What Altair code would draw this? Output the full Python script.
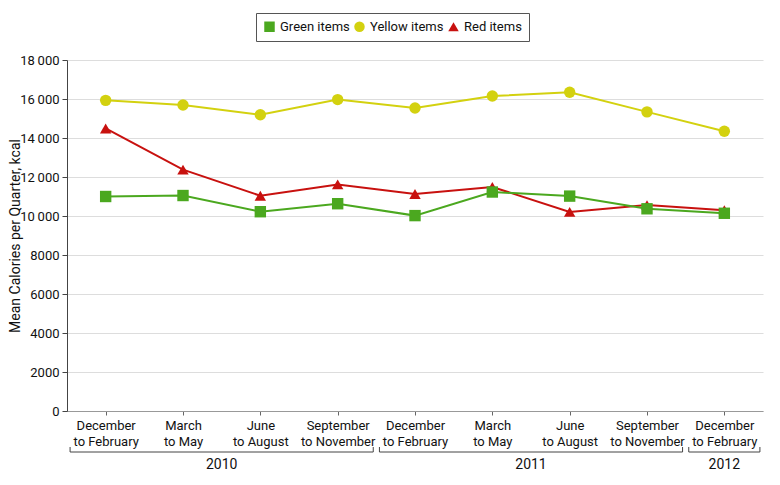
import altair as alt
import pandas as pd
import json

quarters = [
    ["December", "to February"], ["March", "to May"], ["June", "to August"],
    ["September", "to November"], ["December", "to February"], ["March", "to May"],
    ["June", "to August"], ["September", "to November"], ["December", "to February"],
]
quarter_year = ["2010", "2010", "2010", "2010", "2011", "2011", "2011", "2011", "2012"]

series_names = ["Green items", "Yellow items", "Red items"]
series_colors = ["#4ba81f", "#d3d10f", "#c8110f"]
series_shapes = ["square", "circle", "triangle-up"]

green = [11000, 11050, 10220, 10630, 10020, 11230, 11020, 10370, 10140]
yellow = [15930, 15690, 15190, 15970, 15540, 16150, 16350, 15340, 14350]
red = [14490, 12380, 11040, 11620, 11130, 11490, 10210, 10560, 10300]

y_ticks = [0, 2000, 4000, 6000, 8000, 10000, 12000, 14000, 16000, 18000]

FONT = "Roboto"
W, H = 696, 351

rows = []
# drawing order: yellow, red, green (green on top)
for name, vals in [("Yellow items", yellow), ("Red items", red), ("Green items", green)]:
    for i, v in enumerate(vals):
        rows.append({"idx": i, "series": name, "value": v})
df = pd.DataFrame(rows)

# year brackets derived from quarter_year
years = []
for y in dict.fromkeys(quarter_year):
    ids = [i for i, q in enumerate(quarter_year) if q == y]
    years.append({"year": y, "start": min(ids), "end": max(ids)})
ydf = pd.DataFrame(years)

label_expr = json.dumps(quarters) + "[datum.value]"

xscale = alt.Scale(domain=[-0.5, 8.5], nice=False, zero=False)
yscale = alt.Scale(domain=[0, 18000], nice=False)

legend = alt.Legend(title=None, orient="none", direction="horizontal",
                    legendX=189, legendY=-47, strokeColor="#555555",
                    padding=7, labelFont=FONT, labelFontSize=13,
                    labelColor="#111111", symbolSize=110,
                    columnPadding=3, symbolStrokeWidth=0,
                    symbolOpacity=1, labelOffset=4)
cscale = alt.Scale(domain=series_names, range=series_colors)
color = alt.Color("series:N", scale=cscale, legend=legend)
shape = alt.Shape("series:N", scale=alt.Scale(domain=series_names, range=series_shapes), legend=legend)

x = alt.X("idx:Q", scale=xscale,
          axis=alt.Axis(title=None, values=list(range(9)), labelExpr=label_expr,
                        grid=False, tickSize=4, tickColor="#666666", domainColor="#999999",
                        labelFont=FONT, labelFontSize=13, labelColor="#111111",
                        labelPadding=4, labelLineHeight=16, labelFlush=False))
y = alt.Y("value:Q", scale=yscale,
          axis=alt.Axis(title="Mean Calories per Quarter, kcal", values=y_ticks,
                        labelExpr="datum.value >= 10000 ? format(floor(datum.value/1000),'d') + '\u2009' + '000' : format(datum.value,'d')",
                        tickSize=5, tickColor="#444444", domainColor="#444444",
                        gridColor="#dddddd", gridWidth=1.2,
                        labelFont=FONT, labelFontSize=13, labelColor="#111111",
                        labelPadding=3, titleFont=FONT, titleFontSize=14,
                        titleFontWeight="normal", titleColor="#111111",
                        titleX=-45, titleY=H / 2, titleBaseline="bottom"))

lines = alt.Chart(df).mark_line(strokeWidth=2).encode(
    x=x, y=y, color=color, detail="series:N")
points = alt.Chart(df).mark_point(filled=True, opacity=1, size=130).encode(
    x=x, y=y, color=color, shape=shape)

bx = alt.X("s:Q", scale=xscale)
bx2 = alt.X2("e:Q")
base_b = alt.Chart(ydf).transform_calculate(s="datum.start - 0.46", e="datum.end + 0.46", m="(datum.start + datum.end)/2")
bracket = base_b.mark_rule(color="#444444", strokeWidth=1, clip=False).encode(
    x=bx, x2=bx2, y=alt.value(H + 41))
left_tick = base_b.mark_rule(color="#444444", strokeWidth=1, clip=False).encode(
    x=bx, y=alt.value(H + 36), y2=alt.value(H + 41))
right_tick = base_b.mark_rule(color="#444444", strokeWidth=1, clip=False).encode(
    x=alt.X("e:Q", scale=xscale), y=alt.value(H + 36), y2=alt.value(H + 41))
year_text = base_b.mark_text(font=FONT, fontSize=14, color="#111111", baseline="middle", clip=False).encode(
    x=alt.X("m:Q", scale=xscale), y=alt.value(H + 54), text="year:N")

chart = alt.layer(lines, points, bracket, left_tick, right_tick, year_text).properties(
    width=W, height=H,
    autosize=alt.AutoSizeParams(type="none"),
    padding={"left": 59, "top": 52, "right": 5, "bottom": 70},
).configure_view(stroke=None)

chart.save("out.html", embed_options={"renderer": "svg", "actions": False})
